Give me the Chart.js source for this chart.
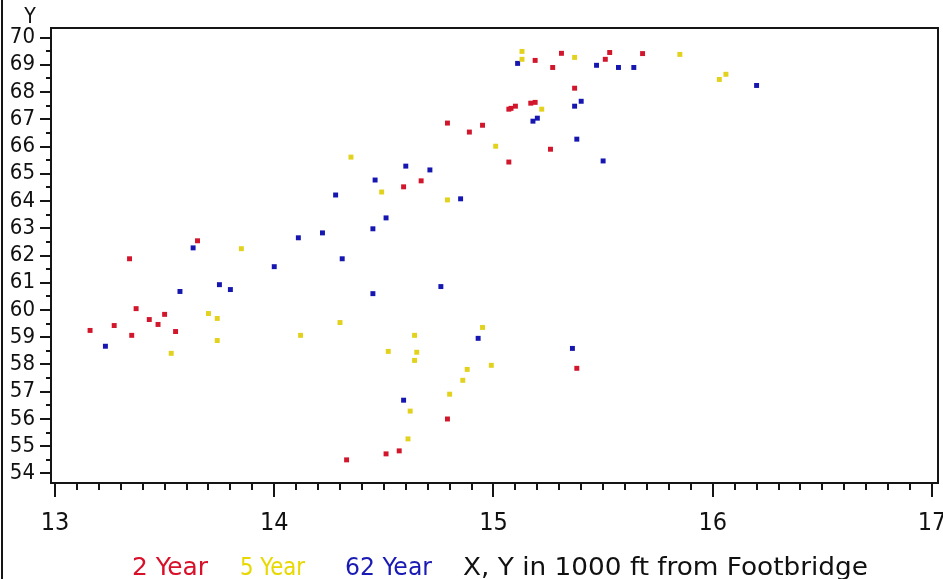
<!DOCTYPE html>
<html>
<head>
<meta charset="utf-8">
<title>Footbridge scatter</title>
<script src="https://cdn.jsdelivr.net/npm/chart.js@4.4.1/dist/chart.umd.min.js"></script>
<style>
  html, body { margin: 0; padding: 0; background: #fff; }
  canvas { display: block; }
</style>
</head>
<body>
<canvas id="chart" width="943" height="579"></canvas>
<script>
// ============================
// DATA  (X, Y in 1000 ft from Footbridge)
// ============================
const twoYear = [
  [13.34, 61.88], [13.65, 62.54], [13.37, 60.05], [13.43, 59.65], [13.47, 59.47],
  [13.50, 59.84], [13.55, 59.21], [13.16, 59.25], [13.27, 59.43], [13.35, 59.07],
  [14.59, 64.52], [14.67, 64.74], [14.79, 66.86], [14.89, 66.53], [14.95, 66.78],
  [15.08, 67.40], [15.10, 67.48], [15.07, 67.37], [15.19, 67.62], [15.17, 67.59],
  [15.07, 65.43], [15.26, 65.90], [15.37, 68.14], [15.19, 69.16], [15.31, 69.42],
  [15.27, 68.90], [15.53, 69.45], [15.51, 69.20], [15.68, 69.41], [14.79, 56.00],
  [14.57, 54.83], [14.51, 54.72], [14.33, 54.50], [15.38, 57.86]
];

const fiveYear = [
  [13.85, 62.25], [13.70, 59.87], [13.74, 59.69], [13.74, 58.88], [13.53, 58.41],
  [14.12, 59.07], [14.30, 59.54], [14.35, 65.61], [14.49, 64.33], [14.79, 64.04],
  [15.01, 66.01], [15.22, 67.37], [15.13, 69.49], [15.13, 69.20], [15.37, 69.27],
  [15.85, 69.38], [16.03, 68.46], [16.06, 68.65], [14.64, 59.07], [14.52, 58.48],
  [14.65, 58.45], [14.64, 58.15], [14.95, 59.36], [14.99, 57.97], [14.88, 57.82],
  [14.86, 57.42], [14.80, 56.91], [14.62, 56.29], [14.61, 55.27]
];

const sixtyTwoYear = [
  [13.63, 62.28], [13.57, 60.68], [13.75, 60.93], [13.80, 60.75], [14.00, 61.59],
  [13.23, 58.67], [14.11, 62.65], [14.22, 62.83], [14.28, 64.22], [14.31, 61.88],
  [14.45, 62.98], [14.51, 63.38], [14.46, 64.77], [14.60, 65.28], [14.71, 65.14],
  [14.85, 64.08], [14.45, 60.60], [14.76, 60.86], [15.38, 66.27], [15.50, 65.47],
  [15.20, 67.04], [15.18, 66.93], [15.37, 67.48], [15.40, 67.66], [15.11, 69.05],
  [15.47, 68.98], [15.57, 68.90], [15.64, 68.90], [16.20, 68.24], [14.93, 58.96],
  [14.59, 56.69], [15.36, 58.59]
];

const xTickLabels = [13, 14, 15, 16, 17];
const yTickLabels = [54, 55, 56, 57, 58, 59, 60, 61, 62, 63, 64, 65, 66, 67, 68, 69, 70];

const legendParts = ["2 Year", "5 Year", "62 Year", "X, Y in 1000 ft from Footbridge"];

// ============================
// STYLE
// ============================
const RED = "#d2162c";
const YELLOW = "#e2d21e";
const BLUE = "#1616b0";
const LEGEND_COLORS = ["#d8102a", "#e8d800", "#1a1ab4", "#111111"];
const FONT = "'DejaVu Sans Condensed', 'Liberation Sans', sans-serif";

const toXY = (pts) => pts.map(([x, y]) => ({ x, y }));

// ============================
// FRAME, TICK MARKS, TITLES
// ============================
const framePlugin = {
  id: "frame",
  afterDraw(chart) {
    const { ctx, chartArea: a, scales: { x, y } } = chart;
    ctx.save();
    ctx.strokeStyle = "#151515";
    ctx.lineWidth = 2;

    // plot box
    ctx.strokeRect(a.left, a.top, a.right - a.left, a.bottom - a.top);

    // outer left border
    ctx.beginPath();
    ctx.moveTo(2, 0);
    ctx.lineTo(2, chart.height);
    ctx.stroke();

    // x tick marks (major + tenths)
    const x0 = xTickLabels[0];
    const xN = xTickLabels[xTickLabels.length - 1];
    ctx.beginPath();
    for (let i = 0; i <= (xN - x0) * 10; i++) {
      const px = Math.round(x.getPixelForValue(x0 + i / 10));
      const len = i % 10 === 0 ? 14 : 7;
      ctx.moveTo(px, a.bottom);
      ctx.lineTo(px, a.bottom + len);
    }
    // y tick marks (major + halves)
    const y0 = yTickLabels[0];
    const yN = yTickLabels[yTickLabels.length - 1];
    for (let i = 0; i <= (yN - y0) * 2; i++) {
      const py = Math.round(y.getPixelForValue(y0 + i / 2));
      const len = i % 2 === 0 ? 11 : 5;
      ctx.moveTo(a.left - len, py);
      ctx.lineTo(a.left, py);
    }
    ctx.stroke();

    // y axis label
    ctx.fillStyle = "#111";
    ctx.font = "21px " + FONT;
    ctx.textAlign = "center";
    ctx.textBaseline = "alphabetic";
    ctx.fillText("Y", 30, 23);

    // legend line at the bottom, coloured per series
    const starts = [132, 240, 345, 463];
    const widths = [76, 65, 87, 405];
    ctx.font = "25px " + FONT;
    ctx.textAlign = "left";
    legendParts.forEach((txt, i) => {
      const w = ctx.measureText(txt).width;
      ctx.save();
      ctx.translate(starts[i], 575);
      ctx.scale(widths[i] / w, 1);
      ctx.fillStyle = LEGEND_COLORS[i];
      ctx.fillText(txt, 0, 0);
      ctx.restore();
    });

    ctx.restore();
  }
};

// ============================
// CHART
// ============================
const ctx = document.getElementById("chart").getContext("2d");

const pointStyle = (color) => ({
  backgroundColor: color,
  borderColor: color,
  borderWidth: 0,
  pointStyle: "rect",
  pointRadius: 3.5,
  pointHoverRadius: 3.5
});

new Chart(ctx, {
  type: "scatter",
  data: {
    datasets: [
      { label: legendParts[0], data: toXY(twoYear), ...pointStyle(RED) },
      { label: legendParts[1], data: toXY(fiveYear), ...pointStyle(YELLOW) },
      { label: legendParts[2], data: toXY(sixtyTwoYear), ...pointStyle(BLUE) }
    ]
  },
  options: {
    responsive: false,
    animation: false,
    layout: { padding: { top: 28, right: 5, left: 0, bottom: 0 } },
    plugins: {
      legend: { display: false },
      tooltip: { enabled: false }
    },
    scales: {
      x: {
        type: "linear",
        min: 12.9818,
        max: 17.0274,
        afterBuildTicks: (s) => { s.ticks = xTickLabels.map((v) => ({ value: v })); },
        afterFit: (s) => { s.height = 96; s.paddingLeft = 0; s.paddingRight = 0; },
        grid: { display: false, drawTicks: false },
        border: { display: false },
        ticks: {
          autoSkip: false,
          maxRotation: 0,
          padding: 25,
          color: "#111",
          font: { family: FONT, size: 25 },
          callback: (v) => String(v)
        }
      },
      y: {
        type: "linear",
        min: 53.651,
        max: 70.349,
        afterBuildTicks: (s) => { s.ticks = yTickLabels.map((v) => ({ value: v })); },
        afterFit: (s) => { s.width = 51; s.paddingTop = 0; s.paddingBottom = 0; },
        grid: { display: false, drawTicks: false },
        border: { display: false },
        ticks: {
          autoSkip: false,
          padding: 16,
          color: "#111",
          font: { family: FONT, size: 22 },
          callback: (v) => String(v)
        }
      }
    }
  },
  plugins: [framePlugin]
});
</script>
</body>
</html>
